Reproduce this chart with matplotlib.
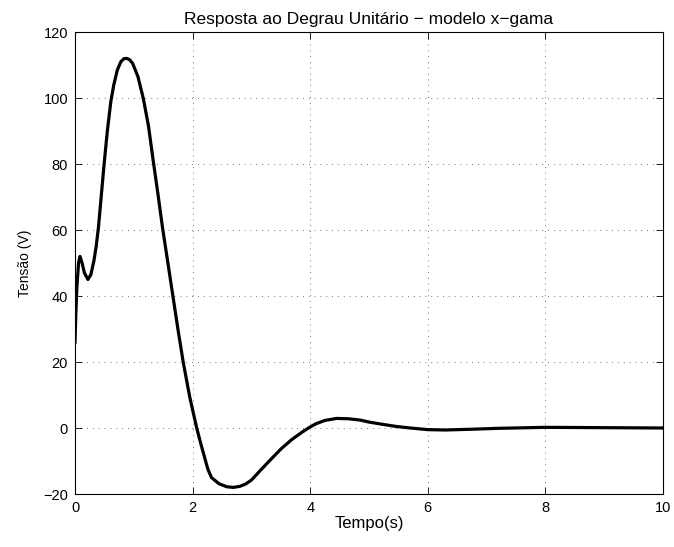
import numpy as np
import matplotlib
matplotlib.use('Agg')
import matplotlib.pyplot as plt

plt.rcParams['font.family'] = ['Liberation Sans', 'DejaVu Sans']

# ── Data (step response, x-gamma model) ───────────────────────────────────────
tempo = [0.0, 0.015, 0.03, 0.06, 0.085, 0.12, 0.16, 0.22, 0.27, 0.32, 0.36,
         0.40, 0.45, 0.49, 0.55, 0.61, 0.66, 0.72, 0.78, 0.83, 0.88, 0.93,
         0.98, 1.07, 1.16, 1.25, 1.33, 1.41, 1.49, 1.58, 1.665, 1.75, 1.84,
         1.95, 2.0, 2.07, 2.14, 2.21, 2.26, 2.32, 2.45, 2.58, 2.69, 2.8, 2.9,
         3.0, 3.15, 3.32, 3.5, 3.68, 3.85, 3.97, 4.1, 4.25, 4.45, 4.65, 4.85,
         5.0, 5.2, 5.45, 5.7, 6.0, 6.3, 6.7, 7.2, 8.0, 9.0, 10.0]
tensao = [26, 35, 42, 50, 52, 50, 47, 45, 46.5, 50.5, 55,
          61, 71, 79, 90, 99, 104, 108.5, 111, 111.9, 112, 111.6,
          110.5, 106.5, 100, 91.5, 81, 71, 60.5, 50, 40, 30, 20,
          9.5, 5.5, 0, -4.8, -9.3, -12.5, -15.0, -16.9, -17.8, -18, -17.7, -17.0,
          -15.8, -12.9, -9.7, -6.4, -3.6, -1.4, 0, 1.3, 2.3, 2.9, 2.8, 2.4,
          1.8, 1.2, 0.5, 0, -0.5, -0.6, -0.4, -0.1, 0.2, 0.1, 0.0]

xticks = [0, 2, 4, 6, 8, 10]
yticks = [-20, 0, 20, 40, 60, 80, 100, 120]

# ── Figure ────────────────────────────────────────────────────────────────────
fig = plt.figure(figsize=(6.74, 5.47), dpi=100)
ax = fig.add_axes([75/674, 1 - 494/547, (663 - 75)/674, (494 - 32)/547])

ax.plot(tempo, tensao, color='black', lw=2.3, solid_joinstyle='round')

ax.set_xlim(0, 10)
ax.set_ylim(-20, 120)
ax.set_xticks(xticks)
ax.set_yticks(yticks)
ax.grid(True, color='#444444', lw=0.6, ls=(0, (1, 6)))

ax.tick_params(direction='in', top=True, right=True, length=5, width=0.6,
               labelsize=10.5, pad=5)
for s in ax.spines.values():
    s.set_linewidth(0.8)

ax.set_title('Resposta ao Degrau Unitário − modelo x−gama', fontsize=12.5, pad=6)
ax.set_xlabel('Tempo(s)', fontsize=12, labelpad=1)
ax.set_ylabel('Tensão (V)', fontsize=10, labelpad=8)

fig.savefig('out.png', dpi=100)
